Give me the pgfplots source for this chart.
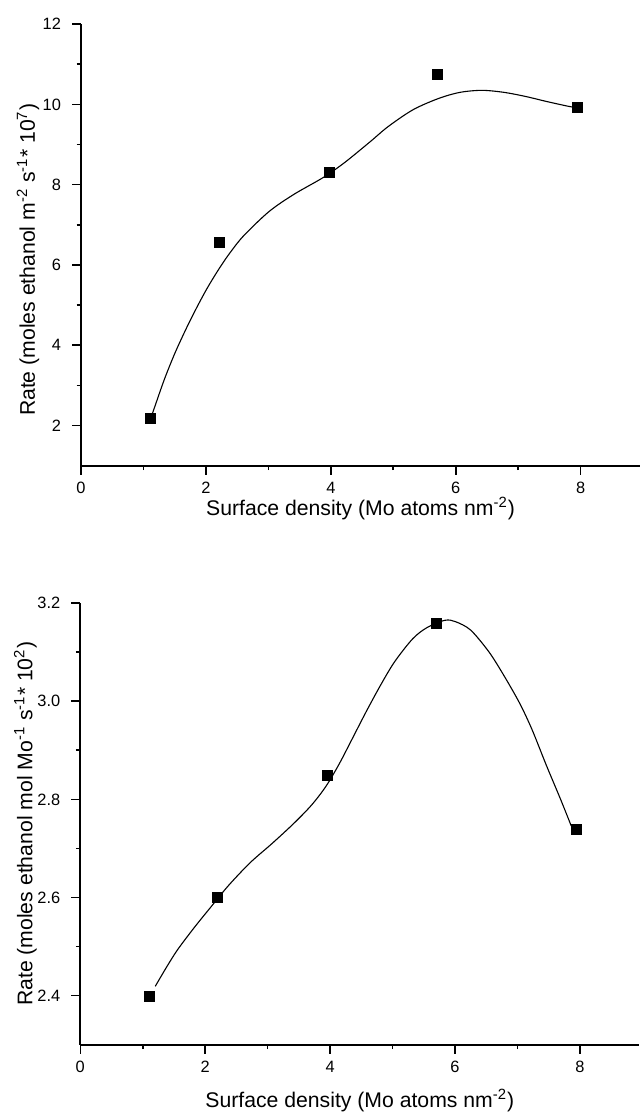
\documentclass[border=0pt]{standalone}
\usepackage{fontspec}
\setmainfont{Liberation Sans}
\usepackage{pgfplots}
\pgfplotsset{compat=1.18}
\pgfplotsset{
  myaxis/.style={
    scale only axis,
    width=279.5pt, height=220.8pt,
    axis lines=left,
    axis line style={-, line width=0.9pt},
    tick align=outside,
    major tick length=4.5pt,
    minor tick length=2.2pt,
    every tick/.style={black, line width=0.8pt},
    minor tick num=1,
    xmin=0, xmax=8.95,
    xtick={0,2,4,6,8},
    /pgf/number format/assume math mode=true,
    tick label style={font=\fontsize{8.2}{9}\selectfont},
    yticklabel style={xshift=-2pt},
    label style={font=\fontsize{10.6}{12}\selectfont},
    clip=false,
  },
}
\begin{document}
\begin{tikzpicture}
\useasboundingbox (0,0) rectangle (320pt,556.5pt);
% ---------------- top ----------------
\begin{axis}[myaxis,
  at={(40.5pt,323.65pt)}, anchor=south west,
  ymin=1, ymax=12,
  ytick={2,4,6,8,10,12},
  xlabel={Surface density (Mo atoms nm\textsuperscript{-2})},
  ylabel={Rate (moles ethanol m\textsuperscript{-2} s\textsuperscript{-1}* 10\textsuperscript{7})},
  xlabel style={at={([yshift=-25pt]axis description cs:0.5,0)}, anchor=base},
  ylabel style={at={([xshift=-23pt]axis description cs:0,0.466)}, anchor=base},
]
\addplot[black, line width=0.55pt, smooth, tension=0.5] coordinates {
(1.12,2.22) (1.15,2.33) (1.33,3.13) (1.50,3.79) (1.68,4.40) (1.85,4.93)
(2.02,5.42) (2.20,5.88) (2.37,6.27) (2.60,6.72) (3.01,7.33) (3.41,7.76)
(3.88,8.18) (4.22,8.55) (4.63,9.07) (4.92,9.45) (5.32,9.87) (5.73,10.15)
(6.07,10.30) (6.42,10.35) (6.77,10.30) (7.11,10.20) (7.46,10.07) (7.81,9.95) (7.94,9.92)
};
\addplot[only marks, mark=square*, mark size=2.5pt, black] coordinates {
(1.11,2.19) (2.22,6.56) (3.97,8.31) (5.70,10.75) (7.94,9.92)
};
\end{axis}
% ---------------- bottom ----------------
\begin{axis}[myaxis,
  at={(40.15pt,34.15pt)}, anchor=south west,
  ymin=2.3, ymax=3.2,
  ytick={2.4,2.6,2.8,3.0,3.2},
  minor ytick={2.5,2.7,2.9,3.1},
  yticklabel style={/pgf/number format/.cd, fixed, fixed zerofill, precision=1},
  x axis line style={line width=1.2pt},
  xlabel={Surface density (Mo atoms nm\textsuperscript{-2})},
  ylabel={Rate (moles ethanol mol Mo\textsuperscript{-1} s\textsuperscript{-1}* 10\textsuperscript{2})},
  xlabel style={at={([yshift=-31.6pt]axis description cs:0.5,0)}, anchor=base},
  ylabel style={at={([xshift=-24pt]axis description cs:0,0.5)}, anchor=base},
]
\addplot[black, line width=0.55pt, smooth, tension=0.5] coordinates {
(1.20,2.419) (1.39,2.46) (1.56,2.494) (1.82,2.538) (2.08,2.579) (2.37,2.624)
(2.72,2.671) (3.07,2.710) (3.41,2.750) (3.70,2.788) (3.93,2.826) (4.14,2.871)
(4.34,2.920) (4.57,2.977) (4.80,3.031) (5.03,3.080) (5.32,3.127) (5.55,3.150)
(5.84,3.165) (6.01,3.162) (6.25,3.145) (6.54,3.101) (6.77,3.055) (7.03,2.997)
(7.23,2.943) (7.46,2.870) (7.69,2.800) (7.86,2.746)
};
\addplot[only marks, mark=square*, mark size=2.5pt, black] coordinates {
(1.10,2.399) (2.20,2.60) (3.96,2.849) (5.70,3.159) (7.94,2.739)
};
\end{axis}
\end{tikzpicture}
\end{document}
